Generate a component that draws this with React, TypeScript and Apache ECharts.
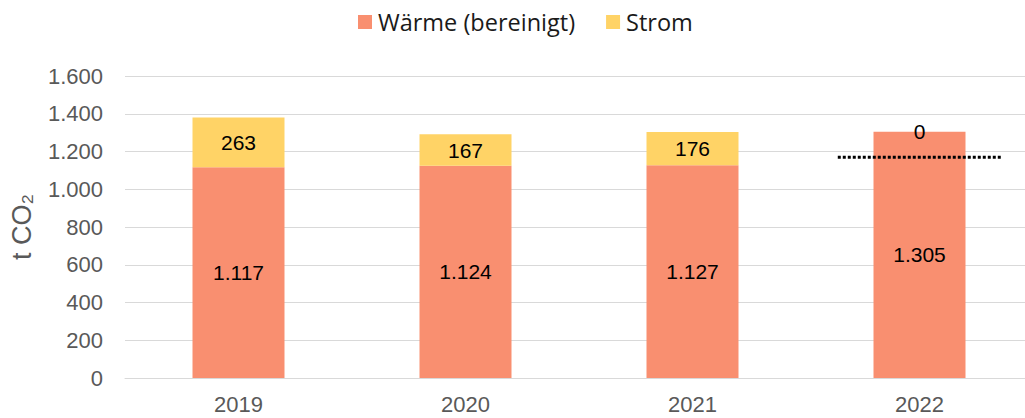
import React, { useEffect, useRef } from "react";
import * as echarts from "echarts";

const years = ["2019", "2020", "2021", "2022"];
const waerme = [1117, 1124, 1127, 1305];
const strom = [263, 167, 176, 0];
const targetValue = 1170;
const targetSpan = [2.64, 3.36];

const fmt = (v: number) => {
  const s = String(Math.round(v));
  return s.replace(/\B(?=(\d{3})+(?!\d))/g, ".");
};

export default function App() {
  const ref = useRef<HTMLDivElement>(null);
  useEffect(() => {
    if (!ref.current) return;
    const chart = echarts.init(ref.current, null, { renderer: "svg" });
    chart.setOption({
      animation: false,
      legend: {
        top: 5,
        left: 353,
        itemWidth: 14,
        itemHeight: 14,
        itemGap: 31,
        icon: "rect",
        textStyle: { fontFamily: "Open Sans", fontSize: 23.5, color: "#1a1a1a", padding: [0, 0, 0, 1] },
        data: ["Wärme (bereinigt)", "Strom"],
      },
      grid: { left: 125, top: 76, width: 908, height: 302 },
      xAxis: [
        {
          type: "category",
          data: years,
          axisLine: { lineStyle: { color: "#d9d9d9", width: 1 } },
          axisTick: { show: false },
          axisLabel: { color: "#595959", fontSize: 22, fontFamily: "Liberation Sans", margin: 15 },
        },
        {
          type: "value",
          min: -0.5,
          max: 3.5,
          show: false,
        },
      ],
      yAxis: {
        type: "value",
        min: 0,
        max: 1600,
        interval: 200,
        name: "t CO₂",
        nameLocation: "middle",
        nameGap: 90,
        nameTextStyle: { color: "#595959", fontSize: 27, fontFamily: "Liberation Sans" },
        axisLine: { show: false },
        axisTick: { show: false },
        splitLine: { lineStyle: { color: "#d9d9d9", width: 1 } },
        axisLabel: {
          color: "#595959",
          fontSize: 22,
          fontFamily: "Liberation Sans",
          margin: 22,
          formatter: (v: number) => fmt(v),
        },
      },
      series: [
        {
          name: "Wärme (bereinigt)",
          type: "bar",
          stack: "total",
          barWidth: 92,
          data: waerme,
          itemStyle: { color: "#F98F70" },
          label: {
            show: true,
            position: "inside",
            color: "#000",
            fontSize: 21,
            fontFamily: "Liberation Sans",
            formatter: (p: any) => fmt(p.value),
          },
        },
        {
          name: "Strom",
          type: "bar",
          stack: "total",
          barWidth: 92,
          data: strom,
          itemStyle: { color: "#FFD366" },
          label: {
            show: true,
            position: "inside",
            color: "#000",
            fontSize: 21,
            fontFamily: "Liberation Sans",
            formatter: (p: any) => fmt(p.value),
          },
        },
        {
          name: "Ziel",
          type: "line",
          xAxisIndex: 1,
          data: [
            [targetSpan[0], targetValue],
            [targetSpan[1], targetValue],
          ],
          symbol: "none",
          lineStyle: { color: "#000", width: 3, type: [3, 2] },
          silent: true,
          z: 5,
        },
      ],
    });
    return () => chart.dispose();
  }, []);
  return (
    <div style={{ position: "fixed", left: 0, top: 0, width: 1025, height: 418, overflow: "hidden", background: "#fff" }}>
      <div ref={ref} style={{ width: 1040, height: 418 }} />
    </div>
  );
}
